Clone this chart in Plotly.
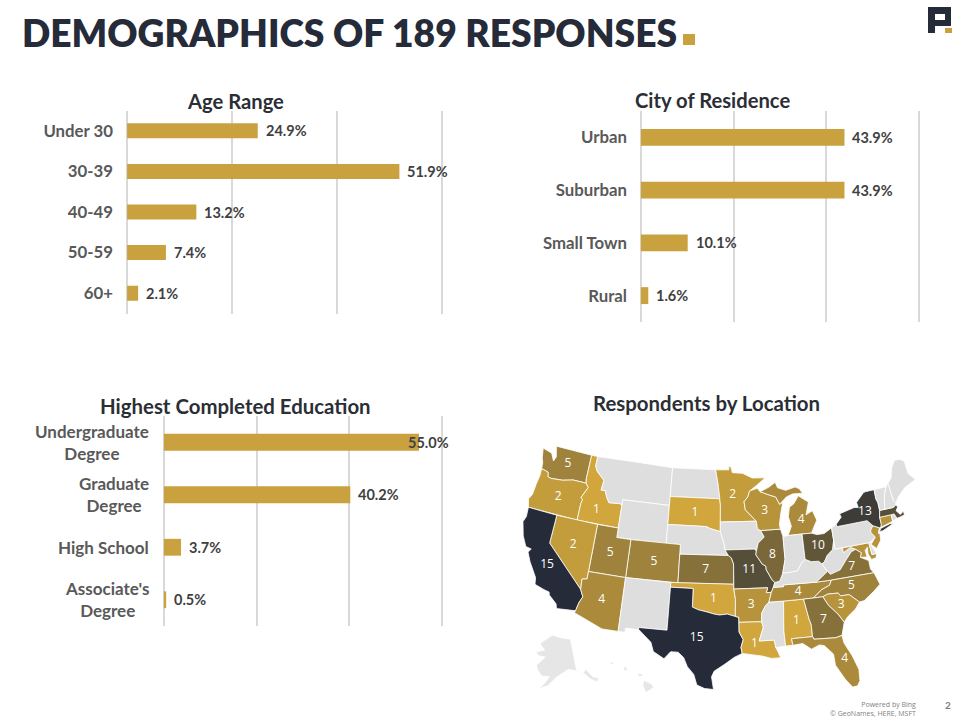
import plotly.graph_objects as go

TITLE = "DEMOGRAPHICS OF 189 RESPONSES"
GOLD = "#C9A13F"; NAVY = "#252B38"; GRID = "#D9D9D9"; LABEL = "#595959"; VAL = "#404040"; HEAD = "#2B2E35"
FONT = "Lato"

age_cats = ["Under 30", "30-39", "40-49", "50-59", "60+"]
age_vals = [24.9, 51.9, 13.2, 7.4, 2.1]
city_cats = ["Urban", "Suburban", "Small Town", "Rural"]
city_vals = [43.9, 43.9, 10.1, 1.6]
edu_cats = ["Undergraduate<br>Degree", "Graduate<br>Degree", "High School", "Associate's<br>Degree"]
edu_vals = [55.0, 40.2, 3.7, 0.5]
edu_shift = [-13, 6, 6, 6]
grid_vals = [0, 20, 40, 60]

grey_states = ["MT", "ND", "WY", "NE", "IA", "NM", "MS", "IN", "KY", "WV", "PA", "ME", "NH", "VT", "RI", "DE"]
pale_states = ["AK", "HI"]
map_states = ["WA", "OR", "ID", "CA", "NV", "UT", "AZ", "CO", "SD", "MN", "WI", "MI", "IL", "MO", "KS", "OK",
              "TX", "AR", "LA", "AL", "GA", "FL", "SC", "NC", "TN", "VA", "OH", "NY", "MA", "CT", "NJ", "MD"]
map_vals = [5, 2, 1, 15, 2, 5, 4, 5, 1, 2, 3, 4, 8, 11, 7, 1, 15, 3, 1, 1, 7, 4, 3, 5, 4, 7, 10, 13, 11, 3, 3, 3]
# value label anchors (lon, lat)
label_lon = [-120.3, -120.5, -114.6, -119.6, -116.8, -111.6, -111.7, -105.5, -100.2, -94.6, -89.9, -84.7, -89.2, -92.5,
             -98.4, -97.3, -99.3, -92.4, -92.2, -86.8, -83.4, -81.5, -80.9, -79.2, -86.2, -78.7, -82.8, -75.4]
label_lat = [47.5, 43.9, 43.5, 36.7, 39.4, 39.3, 34.3, 39.0, 44.4, 46.3, 44.5, 43.2, 39.9, 38.4,
             38.5, 35.5, 31.3, 34.8, 30.7, 32.8, 32.6, 28.2, 33.9, 35.6, 35.8, 37.6, 40.3, 42.9]
label_vals = [5, 2, 1, 15, 2, 5, 4, 5, 1, 2, 3, 4, 8, 11, 7, 1, 15, 3, 1, 1, 7, 4, 3, 5, 4, 7, 10, 13]

WA = [(-124.7,48.4),(-123.2,48.15),(-122.6,47.4),(-122.35,47.9),(-122.8,49),(-117.03,49),(-117.04,46.42),(-116.92,45.99),(-118.98,46),(-119.3,45.93),(-120.5,45.7),(-121.2,45.65),(-122.2,45.57),(-122.75,45.65),(-122.9,46.1),(-123.4,46.2),(-124,46.27),(-124.1,46.9),(-124.4,47.4)]
OR = [(-124,46.27),(-123.4,46.2),(-122.9,46.1),(-122.75,45.65),(-122.2,45.57),(-121.2,45.65),(-120.5,45.7),(-119.3,45.93),(-118.98,46),(-116.92,45.99),(-116.46,45.6),(-117.2,44.4),(-116.9,44.2),(-117.03,43.8),(-117.03,42),(-124.21,42),(-124.55,42.84),(-124.2,43.4),(-124.1,44.6),(-123.95,45.5)]
ID = [(-117.03,49),(-116.05,49),(-116.05,48),(-115.7,47.5),(-114.9,47),(-114.35,46.65),(-114.5,45.6),(-113.9,45.65),(-113.45,44.95),(-113,44.45),(-111.5,44.55),(-111.05,44.48),(-111.05,42),(-117.03,42),(-117.03,43.8),(-116.9,44.2),(-117.2,44.4),(-116.46,45.6),(-116.92,45.99),(-117.04,46.42)]
MT = [(-116.05,49),(-104.05,49),(-104.05,45),(-111.05,45),(-111.05,44.48),(-111.5,44.55),(-113,44.45),(-113.45,44.95),(-113.9,45.65),(-114.5,45.6),(-114.35,46.65),(-114.9,47),(-115.7,47.5),(-116.05,48)]
WY = [(-111.05,45),(-104.05,45),(-104.05,41),(-111.05,41)]
ND = [(-104.05,49),(-97.23,49),(-96.85,47.6),(-96.55,46),(-96.56,45.94),(-104.05,45.94)]
SD = [(-104.05,45.94),(-96.56,45.94),(-96.45,45.3),(-96.45,43.5),(-96.45,42.49),(-97.9,42.8),(-98.5,43),(-104.05,43)]
NE = [(-104.05,43),(-98.5,43),(-97.9,42.8),(-96.45,42.49),(-96.1,41.7),(-95.9,41.2),(-95.77,40.58),(-95.31,40),(-102.05,40),(-102.05,41),(-104.05,41)]
CO = [(-109.05,41),(-102.05,41),(-102.05,37),(-109.05,37)]
UT = [(-114.05,42),(-111.05,42),(-111.05,41),(-109.05,41),(-109.05,37),(-114.05,37)]
NV = [(-120,42),(-114.05,42),(-114.05,36.2),(-114.7,36.1),(-114.6,35),(-120,39)]
CA = [(-124.21,42),(-120,42),(-120,39),(-114.6,35),(-114.15,34.3),(-114.5,33.6),(-114.72,32.72),(-117.12,32.53),(-117.3,33),(-118.4,33.75),(-118.5,34.03),(-119.2,34.15),(-120.5,34.45),(-120.65,35.15),(-121.9,36.6),(-122.5,37.5),(-122.2,37.9),(-123,38),(-123.75,39),(-124.35,40.4),(-124.1,41)]
AZ = [(-114.05,37),(-109.05,37),(-109.05,31.33),(-111.07,31.33),(-114.81,32.5),(-114.72,32.72),(-114.5,33.6),(-114.15,34.3),(-114.6,35),(-114.7,36.1),(-114.05,36.2)]
NM = [(-109.05,37),(-103,37),(-103.04,32),(-106.62,32),(-106.53,31.78),(-108.2,31.78),(-108.2,31.33),(-109.05,31.33)]
KS = [(-102.05,40),(-95.31,40),(-94.9,39.75),(-94.61,39.11),(-94.62,37),(-102.05,37)]
OK = [(-103,37),(-94.62,37),(-94.62,36.5),(-94.43,35.4),(-94.48,33.64),(-95.5,33.9),(-96.5,33.8),(-97.2,33.9),(-98.1,34.1),(-99.2,34.3),(-100,34.56),(-100,36.5),(-103,36.5)]
TX = [(-103,36.5),(-100,36.5),(-100,34.56),(-99.2,34.3),(-98.1,34.1),(-97.2,33.9),(-96.5,33.8),(-95.5,33.9),(-94.48,33.64),(-94.04,33.55),(-94.04,33.02),(-94.04,32),(-93.55,31.2),(-93.85,30.4),(-93.72,29.75),(-94.7,29.35),(-95.9,28.6),(-97.1,27.9),(-97.4,27.3),(-97.15,25.96),(-98.2,26.05),(-99.1,26.4),(-99.5,27.5),(-100.3,28.3),(-100.8,29.25),(-101.5,29.77),(-102.4,29.77),(-103.15,28.98),(-104.5,29.65),(-104.9,30.6),(-106.53,31.78),(-106.62,32),(-103.04,32)]
MN = [(-97.23,49),(-95.15,49),(-95.15,49.38),(-94.8,49.3),(-94.6,48.7),(-93,48.6),(-91.5,48.07),(-89.5,48),(-90.8,47.3),(-92,46.7),(-92.29,46.1),(-92.9,45.6),(-92.75,44.75),(-91.2,43.5),(-96.45,43.5),(-96.45,45.3),(-96.56,45.94),(-96.55,46),(-96.85,47.6)]
IA = [(-96.45,43.5),(-91.2,43.5),(-91.1,42.7),(-90.65,42.5),(-90.2,41.8),(-91.1,41.2),(-91.4,40.4),(-91.7,40.6),(-95.77,40.58),(-95.9,41.2),(-96.1,41.7),(-96.45,42.49)]
MO = [(-95.77,40.58),(-91.7,40.6),(-91.4,40.4),(-91.5,40),(-90.7,39),(-90.2,38.75),(-90.2,38.4),(-89.5,37.3),(-89.15,37),(-89.4,36.5),(-89.7,36),(-90.37,36),(-90.15,36.5),(-94.62,36.5),(-94.62,37),(-94.61,39.11),(-94.9,39.75),(-95.31,40)]
AR = [(-94.62,36.5),(-90.15,36.5),(-90.37,36),(-89.7,36),(-90.1,35),(-90.6,34.6),(-91.1,33.9),(-91.17,33),(-94.04,33.02),(-94.04,33.55),(-94.48,33.64),(-94.43,35.4)]
LA = [(-94.04,33.02),(-91.17,33),(-91,32.4),(-91.6,31),(-89.73,31),(-89.6,30.2),(-89.4,29.8),(-89.1,29.1),(-90.2,29.1),(-91.3,29.4),(-92.3,29.55),(-93.72,29.75),(-93.85,30.4),(-93.55,31.2),(-94.04,32)]
MS = [(-91.17,33),(-91.1,33.9),(-90.6,34.6),(-90.1,35),(-88.2,35),(-88.47,31.9),(-88.4,30.3),(-89.6,30.2),(-89.73,31),(-91.6,31),(-91,32.4)]
AL = [(-88.2,35),(-85.6,35),(-85.18,32.87),(-85,32.3),(-85,31),(-87.6,31),(-87.5,30.3),(-88.4,30.3),(-88.47,31.9)]
TN = [(-90.1,35),(-89.7,36),(-89.4,36.5),(-88.05,36.5),(-88.07,36.68),(-83.68,36.6),(-81.68,36.59),(-82,36.1),(-83.1,35.75),(-84.32,35),(-85.6,35),(-88.2,35)]
KY = [(-89.4,36.5),(-89.15,37),(-88.5,37.1),(-88,37.9),(-86.8,37.95),(-86,38),(-85.4,38.7),(-84.8,39.1),(-84,38.78),(-83,38.73),(-82.6,38.4),(-82,37.55),(-83.68,36.6),(-88.07,36.68),(-88.05,36.5)]
IL = [(-90.65,42.5),(-87.8,42.5),(-87.53,41.7),(-87.53,39.3),(-88,37.9),(-88.5,37.1),(-89.15,37),(-89.5,37.3),(-90.2,38.4),(-90.2,38.75),(-90.7,39),(-91.5,40),(-91.4,40.4),(-91.1,41.2),(-90.2,41.8)]
WI = [(-92,46.7),(-90.8,46.95),(-90.4,46.57),(-89,46.15),(-88.1,45.9),(-87.6,45.1),(-87.1,45.25),(-87.5,44.3),(-87.9,43),(-87.8,42.5),(-90.65,42.5),(-91.1,42.7),(-91.2,43.5),(-92.75,44.75),(-92.9,45.6),(-92.29,46.1)]
MI_U = [(-90.4,46.57),(-89,47),(-88,47.45),(-87.7,46.85),(-86.5,46.5),(-85,46.75),(-84.4,46.5),(-84,46),(-85.5,46.05),(-86.5,45.8),(-87.6,45.1),(-88.1,45.9),(-89,46.15)]
MI_L = [(-86.8,41.76),(-84.8,41.76),(-83.45,41.73),(-83.1,42.2),(-82.45,43),(-82.9,44.05),(-83.9,43.7),(-83.3,45),(-84.7,45.78),(-85.5,45),(-86.2,44.7),(-86.5,43.7),(-86.2,42.7)]
IN = [(-87.53,41.7),(-86.8,41.76),(-84.8,41.76),(-84.8,39.1),(-85.4,38.7),(-86,38),(-86.8,37.95),(-88,37.9),(-87.53,39.3)]
OH = [(-84.8,41.76),(-83.45,41.73),(-82.7,41.5),(-81.7,41.5),(-80.52,41.97),(-80.52,40.64),(-80.85,39.7),(-81.7,39.2),(-82.2,38.6),(-82.6,38.4),(-83,38.73),(-84,38.78),(-84.8,39.1)]
WV = [(-80.52,40.64),(-80.52,39.72),(-79.48,39.72),(-79.48,39.2),(-78.4,39.62),(-77.72,39.32),(-78.4,39.15),(-79.3,38.4),(-80.3,37.5),(-81.68,37.2),(-82,37.55),(-82.6,38.4),(-82.2,38.6),(-81.7,39.2),(-80.85,39.7)]
VA = [(-83.68,36.6),(-82,37.55),(-81.68,37.2),(-80.3,37.5),(-79.3,38.4),(-78.4,39.15),(-77.72,39.32),(-77.05,38.85),(-77.3,38.4),(-76.3,37.9),(-76.3,37),(-75.95,36.55),(-81.68,36.59)]
NC = [(-84.32,35),(-83.1,35.75),(-82,36.1),(-81.68,36.59),(-75.95,36.55),(-75.5,35.25),(-76.5,34.65),(-77.9,33.9),(-78.55,33.85),(-79.67,34.8),(-80.8,34.82),(-81.05,35.15),(-82.4,35.2),(-83.1,35)]
SC = [(-83.1,35),(-82.4,35.2),(-81.05,35.15),(-80.8,34.82),(-79.67,34.8),(-78.55,33.85),(-79.2,33.2),(-80.4,32.5),(-80.87,32.03),(-81.5,33),(-82.5,34)]
GA = [(-85.6,35),(-84.32,35),(-83.1,35),(-82.5,34),(-81.5,33),(-80.87,32.03),(-81.4,30.71),(-82.2,30.57),(-84.86,30.71),(-85,31),(-85,32.3),(-85.18,32.87)]
FL = [(-87.6,31),(-85,31),(-84.86,30.71),(-82.2,30.57),(-81.4,30.71),(-81.3,29.9),(-80.55,28.4),(-80.05,26.9),(-80.15,25.7),(-80.5,25.2),(-81.1,25.15),(-81.8,26.1),(-82.7,27.7),(-82.75,28.9),(-83.7,29.9),(-84.3,30.05),(-85.3,29.7),(-86.3,30.4),(-87.5,30.3)]
MD = [(-79.48,39.72),(-75.79,39.72),(-75.7,38.46),(-75.05,38.45),(-75.25,38.03),(-75.9,37.95),(-76.2,38.6),(-76.1,39.3),(-76.5,39),(-76.4,38.3),(-77.3,38.4),(-77.05,38.85),(-77.72,39.32),(-78.4,39.62),(-79.48,39.2)]
DE = [(-75.79,39.72),(-75.45,39.8),(-75.55,39.4),(-75.05,38.45),(-75.7,38.46)]
PA = [(-80.52,41.97),(-79.76,42.27),(-79.76,42),(-75.35,42),(-74.7,41.36),(-75.13,40.98),(-75.2,40.7),(-74.72,40.15),(-75.45,39.8),(-75.79,39.72),(-80.52,39.72),(-80.52,40.64)]
NJ = [(-74.7,41.36),(-73.9,41),(-74.2,40.45),(-74,40.4),(-74.1,39.7),(-74.9,38.95),(-75.5,39.5),(-74.72,40.15),(-75.2,40.7),(-75.13,40.98)]
NY = [(-79.76,42.27),(-78.9,42.9),(-79.05,43.27),(-76.8,43.63),(-76.2,43.55),(-76.3,44.1),(-75,44.95),(-74.7,45),(-73.35,45),(-73.4,44),(-73.25,43.6),(-73.27,42.75),(-73.5,42.05),(-73.5,41.3),(-73.65,41),(-73.9,41),(-74.7,41.36),(-75.35,42),(-79.76,42)]
NY_LI = [(-74,40.6),(-73.7,40.9),(-72.3,41.15),(-71.9,41.05),(-73.5,40.6)]
CT = [(-73.5,42.05),(-71.8,42.02),(-71.85,41.32),(-73.65,41),(-73.5,41.3)]
RI = [(-71.8,42.02),(-71.38,42.02),(-71.15,41.5),(-71.85,41.32)]
MA = [(-73.27,42.75),(-71.3,42.7),(-70.85,42.87),(-70.6,42.65),(-71,42.3),(-70.55,41.8),(-70,42.05),(-70,41.65),(-70.6,41.55),(-71.15,41.5),(-71.38,42.02),(-71.8,42.02),(-73.5,42.05)]
VT = [(-73.35,45),(-71.5,45),(-72.05,44.2),(-72.45,43),(-72.46,42.73),(-73.27,42.75),(-73.25,43.6),(-73.4,44)]
NH = [(-71.5,45),(-71.08,45.3),(-70.98,43.4),(-70.7,43.07),(-70.85,42.87),(-71.3,42.7),(-72.46,42.73),(-72.45,43),(-72.05,44.2)]
ME = [(-71.08,45.3),(-70.4,45.8),(-70,46.7),(-69.2,47.45),(-68.3,47.35),(-67.8,47.05),(-67.8,45.7),(-67,44.85),(-68.8,44.4),(-70.2,43.6),(-70.7,43.07),(-70.98,43.4)]
AK = [(-141,69.6),(-141,60.3),(-137.5,58.9),(-135.5,59.7),(-133,57),(-130,55.9),(-131.5,55),(-134.5,56.5),(-136.5,58.2),(-140,59.7),(-146,60.7),(-149,59.9),(-152,59),(-153.5,58.5),(-158,56),(-163,54.7),(-160,56.5),(-157.5,58.7),(-162,58.7),(-165,60.5),(-166,61.7),(-161,64.5),(-166,64.6),(-168,65.6),(-162,66.5),(-166.5,68.3),(-156.5,71.3),(-150,70.5)]
HI_B = [(-155.9,20.25),(-155.1,19.85),(-154.8,19.5),(-155.7,18.95),(-156.05,19.7)]
HI_M = [(-156.7,20.95),(-156.25,20.95),(-156,20.75),(-156.4,20.6)]
HI_O = [(-158.25,21.55),(-157.95,21.7),(-157.7,21.3),(-158.1,21.3)]
HI_K = [(-159.8,22.1),(-159.4,22.2),(-159.35,21.95),(-159.6,21.9)]
shapes_by_state = dict(WA=[WA], OR=[OR], ID=[ID], MT=[MT], WY=[WY], ND=[ND], SD=[SD], NE=[NE], CO=[CO], UT=[UT], NV=[NV],
                       CA=[CA], AZ=[AZ], NM=[NM], KS=[KS], OK=[OK], TX=[TX], MN=[MN], IA=[IA], MO=[MO], AR=[AR], LA=[LA],
                       MS=[MS], AL=[AL], TN=[TN], KY=[KY], IL=[IL], WI=[WI], MI=[MI_U, MI_L], IN=[IN], OH=[OH], WV=[WV],
                       VA=[VA], NC=[NC], SC=[SC], GA=[GA], FL=[FL], MD=[MD], DE=[DE], PA=[PA], NJ=[NJ], NY=[NY, NY_LI],
                       CT=[CT], RI=[RI], MA=[MA], VT=[VT], NH=[NH], ME=[ME], AK=[AK], HI=[HI_B, HI_M, HI_O, HI_K])

def ring(pts):
    """Closed ring, clockwise as the geo projection expects."""
    area = sum(a[0] * b[1] - b[0] * a[1] for a, b in zip(pts, pts[1:] + pts[:1]))
    p = list(pts) if area < 0 else list(reversed(pts))
    return p + [p[0]]

def shade(v, lo=(0xD0, 0xA6, 0x3D), hi=(0x25, 0x2B, 0x38)):
    t = (v - 1) / 14
    return "rgb(%d,%d,%d)" % tuple(a + (b - a) * t for a, b in zip(lo, hi))

W, H = 960, 720
def dx(a, b): return [a / W, b / W]
def dy(t, b): return [1 - b / H, 1 - t / H]
def ax(v): return v / W
def ay(v): return 1 - v / H

fig = go.Figure()
panels = [
    ("x", "y", age_cats, age_vals, dx(125, 444), dy(110.5, 313.5), 0.63, "Age Range", 235, 101, [6] * 5),
    ("x2", "y2", city_cats, city_vals, dx(639, 921), dy(111, 322), 0.68, "City of Residence", 712.5, 100, [6] * 4),
    ("x3", "y3", edu_cats, edu_vals, dx(162, 444), dy(416, 626), 0.68, "Highest Completed Education", 235.5, 406, edu_shift),
]
def note(x, y, text, size, color, xanchor="center", family=FONT, weight=700, **kw):
    d = dict(x=x, y=y, xref="paper", yref="paper", text=text, showarrow=False, xanchor=xanchor, yanchor="middle",
             font=dict(family=family, size=size, color=color, weight=weight))
    d.update(kw)
    return d

ann = []
layout = {}
for xa, ya, cats, vals, xd, yd, gap, title, tx, ty, shifts in panels:
    fig.add_trace(go.Bar(x=vals, y=cats, orientation="h", marker=dict(color=GOLD, line_width=0),
                         width=1 - gap, xaxis=xa, yaxis=ya, showlegend=False, hoverinfo="skip"))
    k = xa.replace("x", "")
    layout["xaxis" + k] = dict(domain=xd, range=[-0.4, 60.4], tickmode="array", tickvals=grid_vals, showgrid=True,
                               gridcolor=GRID, gridwidth=1.5, zeroline=False, showticklabels=False, anchor=ya, fixedrange=True)
    layout["yaxis" + k] = dict(domain=yd, autorange="reversed", showgrid=False, zeroline=False, anchor=xa,
                               showticklabels=(xa != "x3"), ticklabelstandoff=11, showline=False,
                               tickfont=dict(family=FONT, size=16.8, color=LABEL, weight=700), fixedrange=True)
    for c, v, s in zip(cats, vals, shifts):
        ann.append(dict(x=v, y=c, xref=xa, yref=ya, text=f"{v:.1f}%", showarrow=False, xanchor="left", yanchor="middle", xshift=s,
                        font=dict(family=FONT, size=14.5, color=VAL, weight=700)))
    ann.append(note(ax(tx), ay(ty), title, 20.4 if xa == "x3" else 20.2, HEAD))
for c in edu_cats:
    ann.append(note(ax(151), c, c, 17, LABEL, xanchor="right", yref="y3", align="center"))
ann.append(note(ax(706), ay(403), "Respondents by Location", 20.4, HEAD))
ann.append(note(ax(20), ay(33), TITLE, 37.2, NAVY, xanchor="left", weight=800))
ann.append(note(ax(918), ay(709), "Powered by Bing<br>© GeoNames, HERE, MSFT", 7, "#7F7F7F", xanchor="right",
                family="Open Sans", weight=400, align="right"))
ann.append(note(ax(948), ay(705), "2", 10, "#7F7F7F"))

val_by_state = dict(zip(map_states, map_vals))
for st, polys in shapes_by_state.items():
    lons, lats = [], []
    for poly in polys:
        r = ring(poly)
        lons += [p[0] for p in r] + [None]
        lats += [p[1] for p in r] + [None]
    if st in val_by_state:
        col = shade(val_by_state[st])
    elif st in pale_states:
        col = "#E6E6E6"
    else:
        col = "#DEDEDE"
    fig.add_trace(go.Scattergeo(lon=lons[:-1], lat=lats[:-1], mode="lines", fill="toself", fillcolor=col,
                                line=dict(color="white", width=0.8), geo="geo", showlegend=False, hoverinfo="skip"))
fig.add_trace(go.Scattergeo(lon=label_lon, lat=label_lat, text=[str(v) for v in label_vals],
                            mode="text", textfont=dict(family="Open Sans", size=12, color="white"), geo="geo",
                            showlegend=False, hoverinfo="skip"))

layout["geo"] = dict(domain=dict(x=dx(480, 958), y=dy(417, 719)), scope="usa", projection=dict(type="albers usa", scale=1.037),
                     showland=False, showlakes=False, showcoastlines=False, showcountries=False, showsubunits=False,
                     showocean=False, showrivers=False, showframe=False, bgcolor="rgba(0,0,0,0)")

def rect(x0, x1, y0, y1, color):
    return dict(type="rect", xref="paper", yref="paper", x0=ax(x0), x1=ax(x1), y0=ay(y1), y1=ay(y0), fillcolor=color, line_width=0)

logo_outer = [(928, 7), (951, 7), (951, 26), (935, 26), (935, 33), (928, 33)]
logo_inner = [(935, 14), (935, 20), (945, 20), (945, 14)]
def path(pts): return "M" + " L".join(f"{ax(x):.5f},{ay(y):.5f}" for x, y in pts) + " Z"
shapes = [
    rect(683, 695, 34, 45, GOLD),
    dict(type="path", xref="paper", yref="paper", path=path(logo_outer) + " " + path(logo_inner), fillcolor=NAVY, line_width=0, fillrule="evenodd"),
    rect(945, 952, 28, 33, GOLD),
]
fig.update_layout(width=W, height=H, margin=dict(l=0, r=0, t=0, b=0), paper_bgcolor="white", plot_bgcolor="white",
                  annotations=ann, shapes=shapes, **layout)
fig.write_html("out.html", config=dict(displayModeBar=False), post_script="document.body.style.margin='0';")
